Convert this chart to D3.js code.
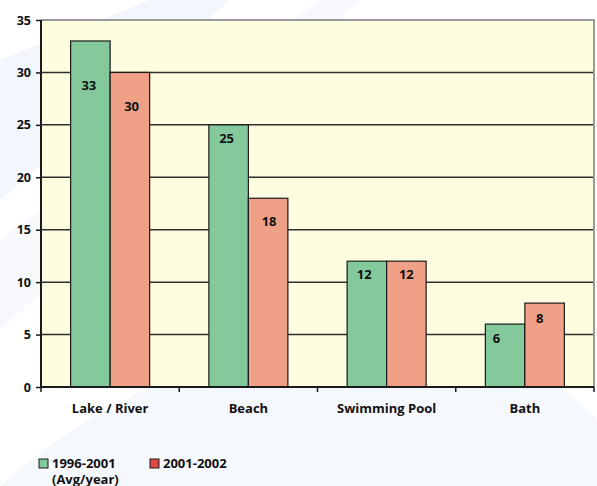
<!DOCTYPE html>
<html>
<head>
<meta charset="utf-8">
<script src="https://cdn.jsdelivr.net/npm/d3@7"></script>
<style>
	body { margin: 0; background: #fff; }
	text { font-family: "Open Sans", sans-serif; font-weight: bold; fill: #111; }
</style>
</head>
<body>
<div id="chart"></div>
<script>
/* global d3 */
// data
const categories = ['Lake / River', 'Beach', 'Swimming Pool', 'Bath'];
const seriesNames = ['1996-2001', '2001-2002'];
const legendLines = [['1996-2001', '(Avg/year)'], ['2001-2002']];
const values1996 = [33, 25, 12, 6];
const values2001 = [30, 18, 12, 8];
const yTicks = [0, 5, 10, 15, 20, 25, 30, 35];

// label placement inside the bars (pixels, from bar centre / bar top)
const labelNudge = [
	[[-1.5, 44], [1.7, 34]],
	[[-2, 13], [1, 23]],
	[[-2.7, 13], [0, 13]],
	[[-8.6, 14], [-5, 15]],
];

const width = 597;
const height = 486;
const margin = { top: 20, right: 3, bottom: 99, left: 41 };
const innerWidth = width - margin.left - margin.right;
const innerHeight = height - margin.top - margin.bottom;

const barColors = ['#84c99b', '#f0a086'];
const legendColors = ['#84c99b', '#e04848'];

const svg = d3.select('#chart').append('svg').attr('width', width).attr('height', height);

// faint background swooshes
const bg = svg.append('g').attr('fill', '#f3f6fc');
bg.append('path').attr('d', 'M0,60 L150,0 L230,0 L0,200 Z');
bg.append('path').attr('d', 'M0,240 L320,0 L360,0 L0,330 Z').attr('fill', '#f7f9fd');
bg.append('path').attr('d', 'M0,486 C120,380 260,330 420,340 C500,345 560,380 597,420 L597,486 Z').attr('fill', '#f5f8fd');

const x0 = d3.scaleBand().domain(categories).range([0, innerWidth]);
const x1 = d3.scaleBand().domain(seriesNames).range([0, x0.bandwidth()]).paddingOuter(0.75);
const y = d3.scaleLinear().domain([0, 35]).range([innerHeight, 0]);

const g = svg.append('g').attr('transform', `translate(${margin.left},${margin.top})`);

g.append('rect').attr('width', innerWidth).attr('height', innerHeight).attr('fill', '#fefde0');

// gridlines
g.append('g').selectAll('line').data(yTicks.filter(t => t > 0 && t < 35)).enter().append('line')
	.attr('x1', 0).attr('x2', innerWidth).attr('y1', d => y(d)).attr('y2', d => y(d))
	.attr('stroke', '#2e2e2e').attr('stroke-width', 1.5);

// plot border top/right
g.append('path').attr('d', `M0,${y(35)} H${innerWidth} V${innerHeight}`)
	.attr('fill', 'none').attr('stroke', '#999').attr('stroke-width', 2);

const rows = categories.map((c, i) => ({ category: c, i, vals: [values1996[i], values2001[i]] }));

const groups = g.selectAll('.grp').data(rows).enter().append('g').attr('class', 'grp')
	.attr('transform', d => `translate(${x0(d.category)},0)`);

const bars = groups.selectAll('.bar').data(d => d.vals.map((v, j) => ({ v, j, i: d.i }))).enter();

bars.append('rect').attr('class', 'bar')
	.attr('x', d => x1(seriesNames[d.j]))
	.attr('y', d => y(d.v))
	.attr('width', x1.bandwidth())
	.attr('height', d => innerHeight - y(d.v))
	.attr('fill', d => barColors[d.j])
	.attr('stroke', '#1a1a1a').attr('stroke-width', 1.2);

bars.append('text')
	.attr('x', d => x1(seriesNames[d.j]) + x1.bandwidth() / 2 + labelNudge[d.i][d.j][0])
	.attr('y', d => y(d.v) + labelNudge[d.i][d.j][1])
	.attr('dy', '0.36em')
	.attr('text-anchor', 'middle')
	.style('font-size', '13px')
	.text(d => d.v);

// y axis
const yAxis = g.append('g').call(d3.axisLeft(y).tickValues(yTicks).tickSize(5).tickPadding(5));
yAxis.select('.domain').attr('stroke', '#1a1a1a').attr('stroke-width', 2).attr('d', `M0,${y(35)}V${innerHeight}`);
yAxis.selectAll('.tick line').attr('stroke', '#1a1a1a').attr('stroke-width', 1.5);
yAxis.selectAll('text').style('font-size', '12.5px').style('font-family', '"Open Sans", sans-serif').style('font-weight', 'bold').attr('fill', '#111');

// x axis: ticks at band boundaries
const xg = g.append('g').attr('transform', `translate(0,${innerHeight})`);
xg.append('line').attr('x1', 0).attr('x2', innerWidth).attr('stroke', '#1a1a1a').attr('stroke-width', 2);
xg.selectAll('.xt').data(categories.concat([null])).enter().append('line').attr('class', 'xt')
	.attr('x1', (d, i) => i * x0.step()).attr('x2', (d, i) => i * x0.step())
	.attr('y1', 0).attr('y2', 5).attr('stroke', '#1a1a1a').attr('stroke-width', 1.5);
xg.selectAll('.xl').data(categories).enter().append('text').attr('class', 'xl')
	.attr('x', d => x0(d) + x0.bandwidth() / 2).attr('y', 21).attr('dy', '0.36em')
	.attr('text-anchor', 'middle').style('font-size', '13px').text(d => d);

// legend
const legend = svg.append('g').attr('transform', 'translate(39,459)');
const items = legend.selectAll('.li').data(seriesNames).enter().append('g').attr('class', 'li')
	.attr('transform', (d, i) => `translate(${i * 111},0)`);
items.append('rect').attr('width', 9).attr('height', 9)
	.attr('fill', (d, i) => legendColors[i]).attr('stroke', '#1a1a1a').attr('stroke-width', 1);
items.each(function(d, i) {
	const t = d3.select(this).append('text').attr('x', 13).attr('y', 4.5).style('font-size', '13px');
	legendLines[i].forEach((line, k) => {
		t.append('tspan').attr('x', k === 0 ? 13 : 13).attr('dy', k === 0 ? '0.36em' : '1.2em').text(line);
	});
});
</script>
</body>
</html>
